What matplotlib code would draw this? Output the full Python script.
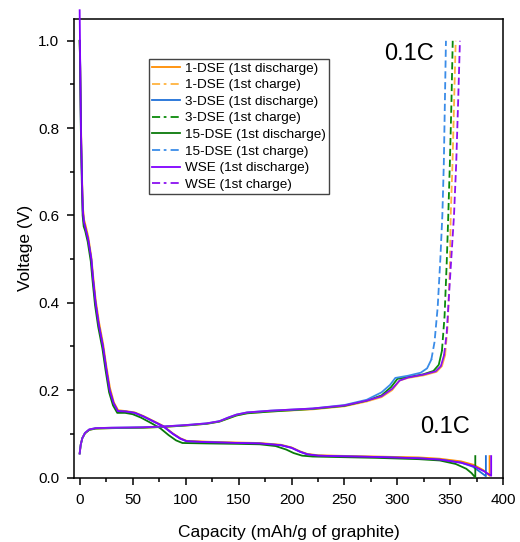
import matplotlib.pyplot as plt
from matplotlib.lines import Line2D

plt.rcParams['font.family'] = ['Liberation Sans', 'DejaVu Sans']

# ---- data (capacity mAh/g, voltage V) ----
# 1st discharge curves
dse1_dis_x = [0, 0.6, 1.3, 2.3, 3.2, 4.2, 5.8, 8.2, 11, 12.8, 15.2, 18.3, 22.2, 25.2, 28.6, 32.3, 36.3, 44, 52, 60, 70, 79, 88, 95, 101, 120, 150, 170, 190, 200, 208, 215, 225, 240, 280, 320, 340, 360, 372, 381, 387, 387]
dse1_dis_y = [1.0, 0.93, 0.8, 0.68, 0.615, 0.59, 0.575, 0.55, 0.505, 0.46, 0.405, 0.355, 0.305, 0.255, 0.205, 0.172, 0.154, 0.152, 0.149, 0.141, 0.129, 0.118, 0.101, 0.09, 0.084, 0.082, 0.08, 0.079, 0.075, 0.069, 0.06, 0.054, 0.051, 0.05, 0.048, 0.046, 0.043, 0.037, 0.029, 0.017, 0.004, 0.049]
dse3_dis_x = [0, 0.5, 1.2, 2.2, 3, 4, 5.5, 8, 11, 12.6, 15, 18, 22, 25, 28.3, 32, 36, 44, 52, 60, 70, 79, 88, 95, 101, 120, 150, 170, 190, 200, 208, 215, 225, 240, 280, 320, 340, 360, 371, 378, 383.5, 383.5]
dse3_dis_y = [1.0, 0.95, 0.8, 0.68, 0.61, 0.585, 0.57, 0.545, 0.5, 0.455, 0.4, 0.35, 0.3, 0.25, 0.2, 0.17, 0.152, 0.151, 0.148, 0.14, 0.128, 0.117, 0.1, 0.089, 0.083, 0.081, 0.079, 0.078, 0.074, 0.068, 0.059, 0.053, 0.05, 0.049, 0.047, 0.044, 0.041, 0.034, 0.025, 0.013, 0.003, 0.049]
dse15_dis_x = [0, 0.5, 1.1, 2.0, 2.8, 3.8, 5.2, 7.6, 10.5, 12.2, 14.5, 17.5, 21.5, 24.5, 27.8, 31.5, 35.5, 43, 50, 58, 68, 76, 84, 91, 97, 120, 150, 170, 185, 195, 202, 210, 220, 240, 280, 320, 340, 355, 365, 370, 373.5, 373.5]
dse15_dis_y = [1.0, 0.94, 0.8, 0.68, 0.6, 0.575, 0.565, 0.54, 0.495, 0.45, 0.395, 0.345, 0.295, 0.245, 0.195, 0.165, 0.148, 0.148, 0.145, 0.137, 0.124, 0.113, 0.097, 0.085, 0.079, 0.078, 0.077, 0.076, 0.072, 0.064, 0.056, 0.05, 0.048, 0.047, 0.045, 0.042, 0.039, 0.031, 0.02, 0.01, 0.0, 0.049]
wse_dis_x = [0, 0.5, 1.2, 2.2, 3, 4, 5.5, 8, 11, 12.6, 15, 18, 22, 25, 28.3, 32, 36, 44, 52, 60, 70, 79, 88, 95, 101, 120, 150, 170, 190, 200, 208, 215, 225, 240, 280, 320, 340, 360, 372, 382, 388.5, 388.5]
wse_dis_y = [1.07, 0.95, 0.8, 0.68, 0.61, 0.585, 0.57, 0.545, 0.5, 0.455, 0.4, 0.35, 0.3, 0.25, 0.2, 0.17, 0.152, 0.151, 0.148, 0.14, 0.128, 0.117, 0.1, 0.089, 0.083, 0.081, 0.079, 0.078, 0.074, 0.068, 0.059, 0.053, 0.05, 0.049, 0.047, 0.044, 0.041, 0.034, 0.026, 0.014, 0.004, 0.049]

# 1st charge curves
dse1_chg_x = [0, 1, 2.5, 5, 9, 15, 30, 60, 80, 100, 120, 132, 140, 148, 158, 180, 220, 250, 271, 285, 295, 302, 310, 325, 337, 342, 345, 347.5, 349.5, 350.3, 352, 353.5, 355]
dse1_chg_y = [0.055, 0.075, 0.09, 0.101, 0.109, 0.112, 0.113, 0.114, 0.116, 0.119, 0.123, 0.128, 0.135, 0.142, 0.147, 0.151, 0.156, 0.163, 0.174, 0.184, 0.2, 0.222, 0.228, 0.234, 0.242, 0.255, 0.28, 0.35, 0.48, 0.6, 0.72, 0.86, 1.0]
dse3_chg_x = [0, 1, 2.5, 5, 9, 15, 30, 60, 80, 100, 120, 132, 140, 148, 158, 180, 220, 250, 271, 285, 294, 300, 310, 324, 334, 339, 342, 344.5, 346.5, 348, 349.5, 351, 352.2]
dse3_chg_y = [0.055, 0.075, 0.09, 0.101, 0.109, 0.112, 0.113, 0.114, 0.116, 0.119, 0.123, 0.128, 0.135, 0.142, 0.147, 0.151, 0.157, 0.164, 0.176, 0.188, 0.207, 0.226, 0.23, 0.236, 0.244, 0.258, 0.29, 0.37, 0.49, 0.6, 0.72, 0.86, 1.0]
dse15_chg_x = [0, 1, 2.5, 5, 9, 15, 30, 60, 80, 100, 120, 132, 140, 148, 158, 180, 220, 250, 271, 285, 293, 298, 310, 322, 328, 332, 335, 338, 340.5, 342.4, 343.8, 344.8, 345.8]
dse15_chg_y = [0.055, 0.075, 0.09, 0.102, 0.11, 0.113, 0.114, 0.115, 0.117, 0.12, 0.124, 0.129, 0.137, 0.144, 0.149, 0.153, 0.158, 0.166, 0.178, 0.195, 0.212, 0.228, 0.233, 0.24, 0.25, 0.27, 0.31, 0.39, 0.5, 0.6, 0.72, 0.86, 1.0]
wse_chg_x = [0, 1, 2.5, 5, 9, 15, 30, 60, 80, 100, 120, 132, 140, 148, 158, 180, 220, 250, 271, 285, 295, 302, 310, 325, 336, 341, 344, 346.5, 349.5, 353.4, 355.5, 357.3, 359]
wse_chg_y = [0.055, 0.075, 0.09, 0.102, 0.11, 0.113, 0.114, 0.115, 0.117, 0.12, 0.124, 0.129, 0.137, 0.144, 0.149, 0.153, 0.158, 0.165, 0.176, 0.186, 0.203, 0.222, 0.229, 0.236, 0.243, 0.255, 0.28, 0.33, 0.45, 0.6, 0.72, 0.86, 1.0]

labels = ['1-DSE (1st discharge)', '1-DSE (1st charge)',
          '3-DSE (1st discharge)', '3-DSE (1st charge)',
          '15-DSE (1st discharge)', '15-DSE (1st charge)',
          'WSE (1st discharge)', 'WSE (1st charge)']
colors = ['#FF8C00', '#FFB33F', '#1F6FD8', '#0A8A0A',
          '#0A7A0A', '#3A8CE8', '#8000FF', '#8A10F0']

series = [(dse1_dis_x, dse1_dis_y), (dse1_chg_x, dse1_chg_y),
          (dse3_dis_x, dse3_dis_y), (dse3_chg_x, dse3_chg_y),
          (dse15_dis_x, dse15_dis_y), (dse15_chg_x, dse15_chg_y),
          (wse_dis_x, wse_dis_y), (wse_chg_x, wse_chg_y)]

fig = plt.figure(figsize=(5.2, 5.42), dpi=100)
ax = fig.add_axes([0.143, 0.119, 0.825, 0.846])

lw = 1.3
for i, (xs, ys) in enumerate(series):
    c = colors[i]
    if i % 2 == 0:
        ax.plot(xs, ys, color=c, lw=lw, clip_on=False, zorder=2 + i)
    else:
        # dense low-voltage part looks solid, the steep part shows dashes
        k = next(j for j, v in enumerate(ys) if v > 0.26)
        ax.plot(xs[:k + 1], ys[:k + 1], color=c, lw=lw, zorder=2 + i)
        ax.plot(xs[k:], ys[k:], color=c, lw=lw, ls=(0, (4, 2)), zorder=2 + i)

ax.set_xlim(-5, 400)
ax.set_ylim(0, 1.05)
ax.set_xticks(range(0, 401, 50))
ax.set_xticks(range(25, 400, 50), minor=True)
ax.set_yticks([0.0, 0.2, 0.4, 0.6, 0.8, 1.0])
ax.set_yticks([0.1, 0.3, 0.5, 0.7, 0.9], minor=True)
ax.tick_params(which='major', direction='out', length=5.3, width=1.1, labelsize=11, pad=5.5)
ax.tick_params(which='minor', direction='out', length=2.8, width=1.1)
ax.set_yticklabels(['0.0', '0.2', '0.4', '0.6', '0.8', '1.0'])
for s in ax.spines.values():
    s.set_linewidth(1.1)

ax.set_xlabel('Capacity (mAh/g of graphite)', fontsize=12.5, labelpad=13.5)
ax.set_ylabel('Voltage (V)', fontsize=12.5, labelpad=4)

ax.text(310.6, 0.97, '0.1C', fontsize=17, ha='center', va='center')
ax.text(345, 0.1165, '0.1C', fontsize=17, ha='center', va='center')

handles = []
for i in range(8):
    ls = '-' if i % 2 == 0 else (0, (4.5, 2, 1.5, 2.3))
    handles.append(Line2D([], [], color=colors[i], lw=lw, ls=ls))
leg = ax.legend(handles, labels, loc='upper left', bbox_to_anchor=(0.174, 0.913),
                borderaxespad=0, fontsize=9.7, fancybox=False, edgecolor='#444444',
                framealpha=1, handlelength=2.05, handletextpad=0.37,
                labelspacing=0.31, borderpad=0.25)
leg.get_frame().set_linewidth(1.0)

fig.savefig('out.png', dpi=100)
